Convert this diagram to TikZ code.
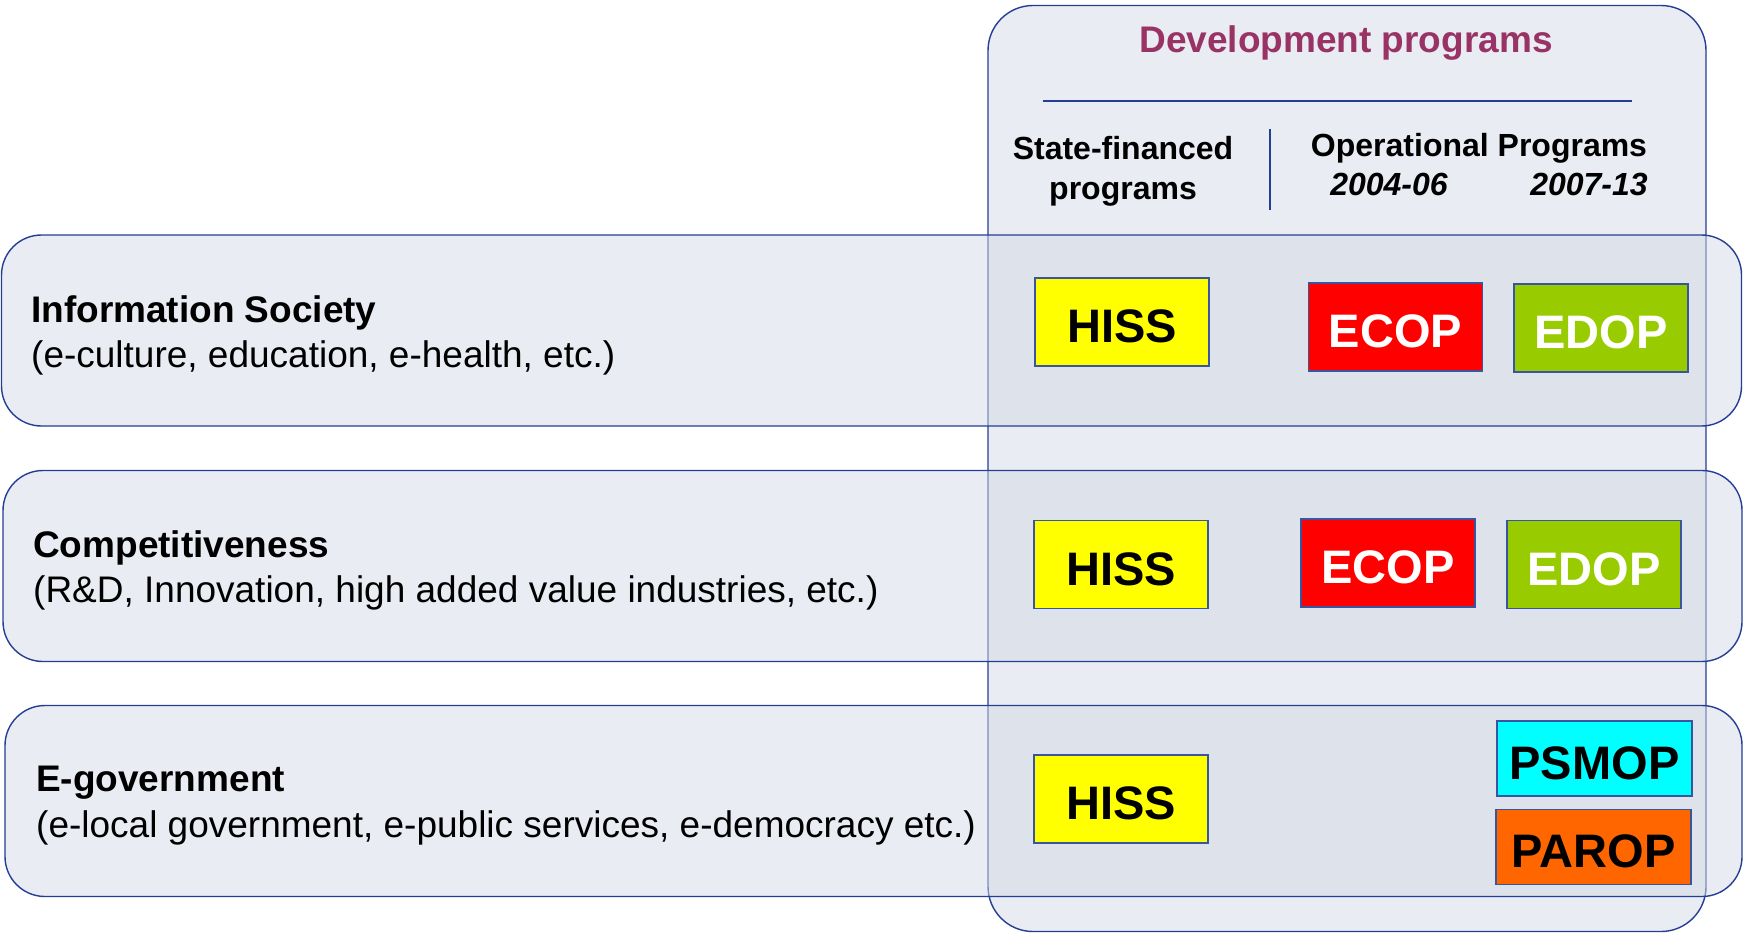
\documentclass[tikz,border=0pt]{standalone}
\usepackage{fontspec}
\setmainfont{Liberation Sans}
\definecolor{navy}{HTML}{233E94}
\definecolor{bandfill}{HTML}{D3D9E5}
\definecolor{titlecol}{HTML}{993366}
\definecolor{boxline}{HTML}{3A55A0}
\definecolor{hissc}{HTML}{FFFF00}
\definecolor{ecopc}{HTML}{FF0000}
\definecolor{edopc}{HTML}{99CC00}
\definecolor{psmopc}{HTML}{00FFFF}
\definecolor{paropc}{HTML}{FF6600}
\begin{document}
\begin{tikzpicture}[x=1pt,y=-1pt,
  container/.style={draw=navy, line width=1.4pt, fill=bandfill, fill opacity=0.5, draw opacity=1, inner sep=0pt},
  band/.style={container, rounded corners=40pt, minimum width=1740pt, minimum height=191pt},
  prog/.style={draw=boxline, line width=1.2pt, inner sep=0pt, font=\fontsize{47}{56}\selectfont\bfseries, text opacity=1, text height=41.6pt, text depth=0pt},
  progA/.style={prog, minimum width=174pt, minimum height=88pt},
  progB/.style={prog, minimum width=195pt, minimum height=75pt},
  head/.style={font=\fontsize{32}{40}\selectfont\bfseries, align=center, inner sep=0pt},
  rowtitle/.style={anchor=west, inner sep=0pt, font=\fontsize{37}{45}\selectfont\bfseries},
  rowsub/.style={anchor=west, inner sep=0pt, font=\fontsize{37}{45}\selectfont},
  rule/.style={draw=navy, line width=1.4pt}
]
\useasboundingbox (0,0) rectangle (1744,932);

% development programs column
\node[container, rounded corners=45pt, minimum width=718pt, minimum height=926pt] (dev) at (1347,468.5) {};

% rows
\node[band] (row1) at (871.5,330.5) {};
\node[band, minimum width=1739pt] (row2) at (872.5,566) {};
\node[band, minimum width=1737pt] (row3) at (873.5,801) {};

% header
\node[inner sep=0pt, font=\fontsize{37}{44}\selectfont\bfseries, text=titlecol] (title) at (1346,43) {Development programs};
\coordinate (hl) at (1043,101);
\coordinate (hr) at (1632,101);
\draw[rule] (hl) -- (hr);
\coordinate (vt) at (1270,129);
\coordinate (vb) at (1270,210);
\draw[rule] (vt) -- (vb);
\node[head] (state) at (1123,171) {State-financed\\programs};
\node[head] (oper) at (1479,148) {Operational Programs};
\node[head, font=\fontsize{32}{40}\selectfont\bfseries\itshape] (y1) at (1389,184.5) {2004-06};
\node[head, font=\fontsize{32}{40}\selectfont\bfseries\itshape] (y2) at (1589,184.5) {2007-13};

% row texts
\node[rowtitle] (t1) at (31,313) {Information Society};
\node[rowsub] (s1) at (31,358) {(e-culture, education, e-health, etc.)};
\node[rowtitle] (t2) at (33,548) {Competitiveness};
\node[rowsub] (s2) at (33,593) {(R\&D, Innovation, high added value industries, etc.)};
\node[rowtitle] (t3) at (36,783) {E-government};
\node[rowsub] (s3) at (36,828) {(e-local government, e-public services, e-democracy etc.)};

% program boxes
\node[progA, fill=hissc] (hiss1) at (1122,322) {HISS};
\node[progA, fill=ecopc, text=white] (ecop1) at (1395.5,327) {ECOP};
\node[progA, fill=edopc, text=white] (edop1) at (1601,328) {EDOP};

\node[progA, fill=hissc] (hiss2) at (1121,564.5) {HISS};
\node[progA, fill=ecopc, text=white] (ecop2) at (1388,563) {ECOP};
\node[progA, fill=edopc, text=white] (edop2) at (1594,564.5) {EDOP};

\node[progA, fill=hissc] (hiss3) at (1121,799) {HISS};
\node[progB, fill=psmopc] (psmop) at (1594.5,758.5) {PSMOP};
\node[progB, fill=paropc] (parop) at (1593.5,847) {PAROP};
\end{tikzpicture}
\end{document}
